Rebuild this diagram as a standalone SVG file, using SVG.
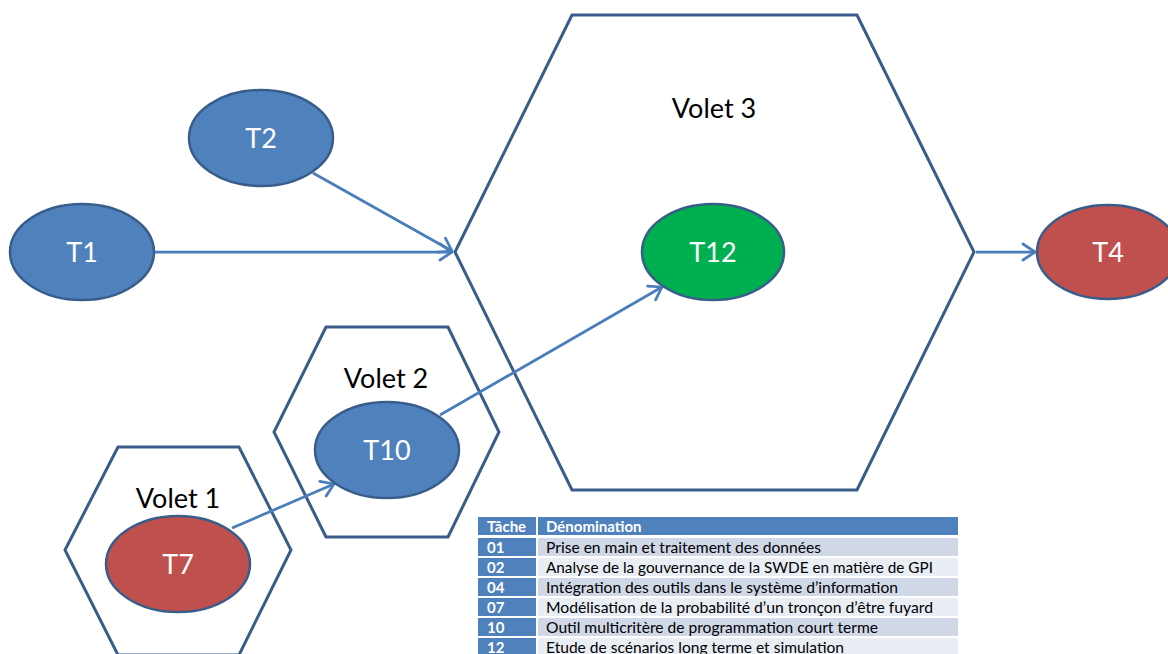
<svg xmlns="http://www.w3.org/2000/svg" width="1168" height="654" viewBox="0 0 1168 654">
  <style>
    .hex { fill: none; stroke: #385d8a; stroke-width: 3; stroke-linejoin: miter; }
    .node { stroke: #385d8a; stroke-width: 2.5; }
    .blue { fill: #4f81bd; }
    .red { fill: #c0504d; }
    .green { fill: #00b050; }
    .lbl { font-family: Lato, "Open Sans", sans-serif; font-size: 27px; fill: #ffffff; text-anchor: middle; }
    .vlbl { font-family: Lato, "Open Sans", sans-serif; font-size: 27px; fill: #000000; text-anchor: middle; }
    .edge { fill: none; stroke: #4a7ebb; stroke-width: 2.75; marker-end: url(#arr); }
    .th { font-family: Lato, "Open Sans", sans-serif; font-size: 15px; font-weight: bold; fill: #ffffff; }
    .td { font-family: Lato, "Open Sans", sans-serif; font-size: 15px; fill: #000000; }
    .cellA { fill: #4f81bd; }
    .cellD { fill: #d0d8e8; }
    .cellL { fill: #e9edf4; }
  </style>
  <defs>
    <marker id="arr" viewBox="-15 -10 17 20" refX="0" refY="0" markerWidth="17" markerHeight="20" orient="auto" markerUnits="userSpaceOnUse">
      <path d="M-12,-8 L0,0 L-12,8" fill="none" stroke="#4a7ebb" stroke-width="2.75" stroke-linecap="round" stroke-linejoin="round"/>
    </marker>
  </defs>
  <rect width="1168" height="654" fill="#ffffff"/>

  <!-- work packages -->
  <g id="volet3">
    <polygon class="hex" points="572,15 857,15 974,252 857,490 572,490 455,252"/>
    <text class="vlbl" x="714" y="118">Volet 3</text>
  </g>
  <g id="volet2">
    <polygon class="hex" points="326,327 448,327 499,432 448,537 326,537 274,432"/>
    <text class="vlbl" x="386" y="388">Volet 2</text>
  </g>
  <g id="volet1">
    <polygon class="hex" points="118,447 239,447 291,550 239,655 118,655 65,550"/>
    <text class="vlbl" x="178" y="508">Volet 1</text>
  </g>

  <!-- connectors -->
  <g id="connectors">
    <line class="edge" x1="155" y1="252" x2="452" y2="252"/>
    <line class="edge" x1="313" y1="173" x2="452" y2="251"/>
    <line class="edge" x1="976" y1="252" x2="1035" y2="252"/>
    <line class="edge" x1="232" y1="528" x2="334" y2="484"/>
    <line class="edge" x1="440" y1="415" x2="662" y2="287"/>
  </g>

  <!-- tasks -->
  <g id="t1">
    <ellipse class="node blue" cx="82" cy="252" rx="72" ry="48"/>
    <text class="lbl" x="82" y="262">T1</text>
  </g>
  <g id="t2">
    <ellipse class="node blue" cx="261" cy="138" rx="72" ry="48"/>
    <text class="lbl" x="261" y="148">T2</text>
  </g>
  <g id="t12">
    <ellipse class="node green" cx="713" cy="252" rx="71" ry="48"/>
    <text class="lbl" x="713" y="262">T12</text>
  </g>
  <g id="t4">
    <ellipse class="node red" cx="1108" cy="252" rx="71" ry="47"/>
    <text class="lbl" x="1108" y="262">T4</text>
  </g>
  <g id="t10">
    <ellipse class="node blue" cx="387" cy="450" rx="72" ry="48"/>
    <text class="lbl" x="387" y="460">T10</text>
  </g>
  <g id="t7">
    <ellipse class="node red" cx="178" cy="564" rx="72" ry="48"/>
    <text class="lbl" x="178" y="574">T7</text>
  </g>

  <!-- task legend -->
  <g id="legend">
    <rect class="cellA" x="478" y="517" width="58" height="18"/>
    <rect class="cellA" x="538" y="517" width="420" height="18"/>
    <text class="th" x="487" y="532">Tâche</text>
    <text class="th" x="546" y="532">Dénomination</text>

    <rect class="cellA" x="478" y="538" width="58" height="18"/>
    <rect class="cellD" x="538" y="538" width="420" height="18"/>
    <text class="th" x="487" y="553">01</text>
    <text class="td" x="546" y="553" textLength="275" lengthAdjust="spacingAndGlyphs">Prise en main et traitement des données</text>

    <rect class="cellA" x="478" y="558" width="58" height="18"/>
    <rect class="cellL" x="538" y="558" width="420" height="18"/>
    <text class="th" x="487" y="573">02</text>
    <text class="td" x="546" y="573" textLength="387" lengthAdjust="spacingAndGlyphs">Analyse de la gouvernance de la SWDE en matière de GPI</text>

    <rect class="cellA" x="478" y="578" width="58" height="18"/>
    <rect class="cellD" x="538" y="578" width="420" height="18"/>
    <text class="th" x="487" y="593">04</text>
    <text class="td" x="546" y="593" textLength="352" lengthAdjust="spacingAndGlyphs">Intégration des outils dans le système d’information</text>

    <rect class="cellA" x="478" y="598" width="58" height="18"/>
    <rect class="cellL" x="538" y="598" width="420" height="18"/>
    <text class="th" x="487" y="613">07</text>
    <text class="td" x="546" y="613" textLength="387" lengthAdjust="spacingAndGlyphs">Modélisation de la probabilité d’un tronçon d’être fuyard</text>

    <rect class="cellA" x="478" y="618" width="58" height="18"/>
    <rect class="cellD" x="538" y="618" width="420" height="18"/>
    <text class="th" x="487" y="633">10</text>
    <text class="td" x="546" y="633" textLength="332" lengthAdjust="spacingAndGlyphs">Outil multicritère de programmation court terme</text>

    <rect class="cellA" x="478" y="638" width="58" height="18"/>
    <rect class="cellL" x="538" y="638" width="420" height="18"/>
    <text class="th" x="487" y="653">12</text>
    <text class="td" x="546" y="653" textLength="298" lengthAdjust="spacingAndGlyphs">Etude de scénarios long terme et simulation</text>
  </g>
</svg>
